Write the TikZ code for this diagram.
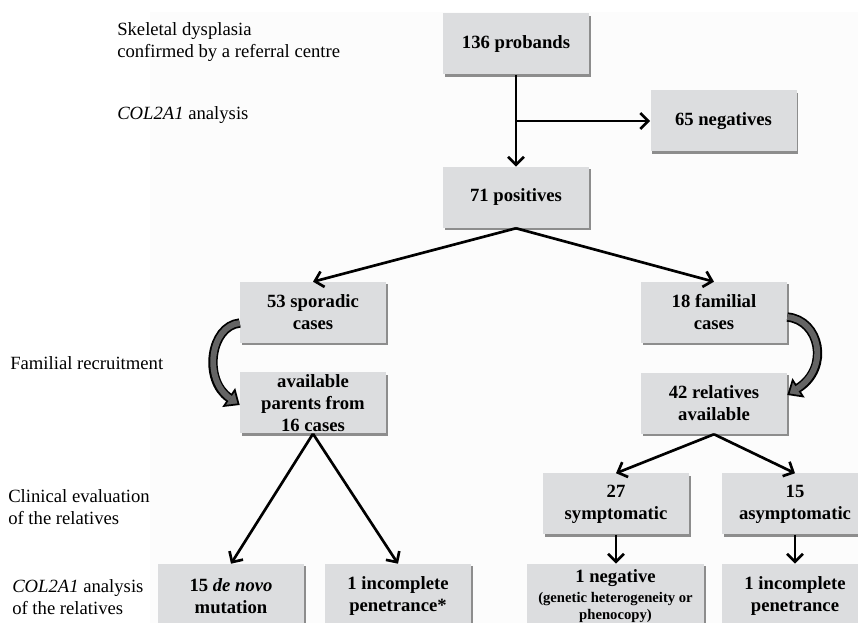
\documentclass[tikz,border=0pt]{standalone}
\usepackage{fontspec}
\setmainfont{Liberation Serif}
\usetikzlibrary{arrows.meta,shadows}
\definecolor{boxgray}{RGB}{220,221,223}
\definecolor{fatgray}{RGB}{100,100,100}
\definecolor{bgpaper}{RGB}{252,252,252}
\begin{document}
\begin{tikzpicture}[x=0.75pt,y=-0.75pt,
  box/.style={fill=boxgray, minimum width=109.5pt, minimum height=45.75pt, inner sep=2pt, align=center,
    font=\fontsize{14}{16.5}\selectfont\bfseries,
    drop shadow={shadow xshift=1.2pt,shadow yshift=-1.6pt,opacity=0.55,fill=black!80}},
  lab/.style={anchor=west, align=left, font=\fontsize{14}{16.5}\selectfont, inner sep=0pt},
  arr/.style={line width=2pt, -{Straight Barb[length=6pt,width=12pt]}},
  fat/.style={line width=7pt, -{Triangle[length=10pt,width=17pt,line width=1.3pt,fill=fatgray]}},
  fatin/.style={line width=4.4pt, draw=fatgray, shorten >=8.5pt}
]
\useasboundingbox (0,0) rectangle (858,623);
\clip (0,0) rectangle (858,623);
\fill[bgpaper] (150,12) rectangle (858,623);

% left labels
\node[lab] (l1) at (117,42) {Skeletal dysplasia\\confirmed by a referral centre};
\node[lab] (l2) at (117,115) {\textit{COL2A1} analysis};
\node[lab] (l3) at (10,363) {Familial recruitment};
\node[lab] (l4) at (8,507) {Clinical evaluation\\of the relatives};
\node[lab] (l5) at (12,597) {\textit{COL2A1} analysis\\of the relatives};

% boxes
\node[box] (prob) at (516,44) {136 probands};
\node[box] (neg) at (723.5,121) {65 negatives};
\node[box] (pos) at (516,197.5) {71 positives};
\node[box] (spor) at (313,312.5) {53 sporadic\\cases};
\node[box] (fam) at (714,312.5) {18 familial\\cases};
\node[box, inner ysep=0pt] (par) at (313,403) {available\\parents from\\16 cases};
\node[box] (rel) at (714,403.5) {42 relatives\\available};
\node[box] (sym) at (616,504) {27\\symptomatic};
\node[box] (asym) at (795,504) {15\\asymptomatic};
\node[box, minimum height=48pt] (dn) at (231,596) {15 \textit{de novo}\\mutation};
\node[box, minimum height=48pt] (inc1) at (398,596) {1 incomplete\\penetrance*};
\node[box, minimum height=48pt, inner ysep=0pt, minimum width=132.75pt] (negr) at (615.5,596)
  {1 negative\\[-1pt]{\fontsize{11}{13}\selectfont (genetic heterogeneity or}\\[-4pt]{\fontsize{11}{13}\selectfont phenocopy)}};
\node[box, minimum height=48pt] (inc2) at (795,596) {1 incomplete\\penetrance};

% connectors
\draw[arr] (prob.south) -- (pos.north);
\coordinate (br) at (prob.south |- neg.west);
\draw[arr] (br) -- (neg.west);
\draw[arr] (pos.south) -- (spor.north);
\draw[arr] (pos.south) -- (fam.north);
\draw[arr] (par.south) -- (dn.north);
\draw[arr] (par.south) -- (inc1.north);
\draw[arr] (rel.south) -- (sym.north);
\draw[arr] (rel.south) -- (asym.north);
\draw[arr] (sym.south) -- (sym.south |- dn.north);
\draw[arr] (asym.south) -- (inc2.north);

% fat curved arrows
\coordinate (fs1) at ([yshift=-7.9pt]spor.west);
\coordinate (fe1) at ([yshift=-1.5pt]par.west);
\draw[fat] (fs1) .. controls (210,326) and (203,380) .. (fe1);
\draw[fatin] (fs1) .. controls (210,326) and (203,380) .. (fe1);
\coordinate (fs2) at ([yshift=-3.4pt]fam.east);
\coordinate (fe2) at ([yshift=6.4pt]rel.east);
\draw[fat] (fs2) .. controls (820,320) and (830,368) .. (fe2);
\draw[fatin] (fs2) .. controls (820,320) and (830,368) .. (fe2);
\end{tikzpicture}
\end{document}
